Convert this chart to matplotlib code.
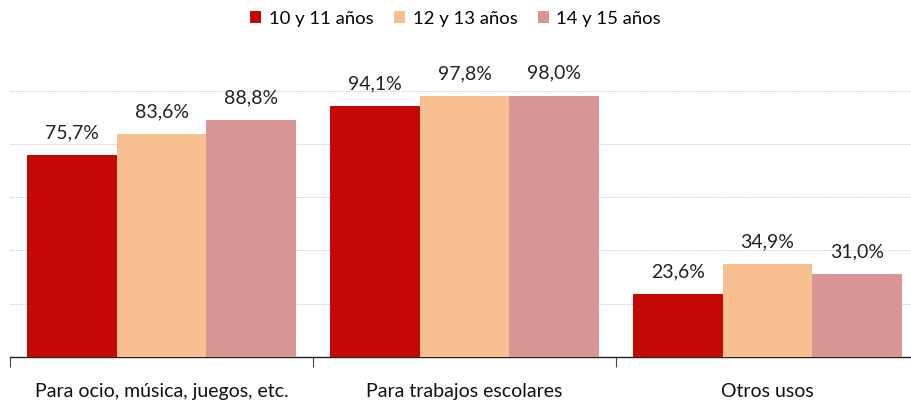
import matplotlib
matplotlib.use("Agg")
import matplotlib.pyplot as plt
import numpy as np

categories = ["Para ocio, música, juegos, etc.", "Para trabajos escolares", "Otros usos"]
series_names = ["10 y 11 años", "12 y 13 años", "14 y 15 años"]
v_10_11 = [75.7, 94.1, 23.6]
v_12_13 = [83.6, 97.8, 34.9]
v_14_15 = [88.8, 98.0, 31.0]
values = [v_10_11, v_12_13, v_14_15]
colors = ["#C40804", "#F8C091", "#D99594"]

plt.rcParams['font.family'] = ['Lato', 'DejaVu Sans']

fig = plt.figure(figsize=(9.11, 4.05), dpi=100)
ax = fig.add_axes([10/911, 1-357/405, 909/911, (357-90.5)/405])

x = np.arange(len(categories))
group_w = 0.885
bw = group_w / 3
for i, (name, vals, c) in enumerate(zip(series_names, values, colors)):
    pos = x + (i - 1) * bw
    bars = ax.bar(pos, vals, width=bw, color=c, label=name, zorder=3)
    for b, v in zip(bars, vals):
        ax.text(b.get_x() + b.get_width()/2, v + 6.4, f"{v:.1f}%".replace('.', ','),
                ha='center', va='baseline', fontsize=14, color='#222222', clip_on=False)

ax.set_xlim(-0.5, len(categories) - 0.5)
ax.set_ylim(0, 100)
ax.set_yticks(np.arange(0, 101, 20))
ax.yaxis.grid(True, color='#C8C8C8', linestyle=(0, (1.5, 1.5)), linewidth=0.7, zorder=0)
ax.tick_params(axis='y', length=0, labelleft=False)
ax.set_xticks(x)
ax.set_xticklabels(categories, fontsize=14, color='#111111')
ax.tick_params(axis='x', length=0, pad=19)
ax.set_xticks(np.arange(-0.5, len(categories)), minor=True)
ax.tick_params(axis='x', which='minor', length=7, width=0.8, color='#444444')
for s in ['top', 'right', 'left']:
    ax.spines[s].set_visible(False)
ax.spines['bottom'].set_color('#222222')
ax.spines['bottom'].set_linewidth(1.0)

fig.legend(loc='upper center', bbox_to_anchor=(0.5, 1.015), ncol=3, frameon=False,
           fontsize=13.3, handlelength=0.62, handleheight=0.62, handletextpad=0.4,
           columnspacing=1.1)

fig.savefig("out.png", dpi=100)
